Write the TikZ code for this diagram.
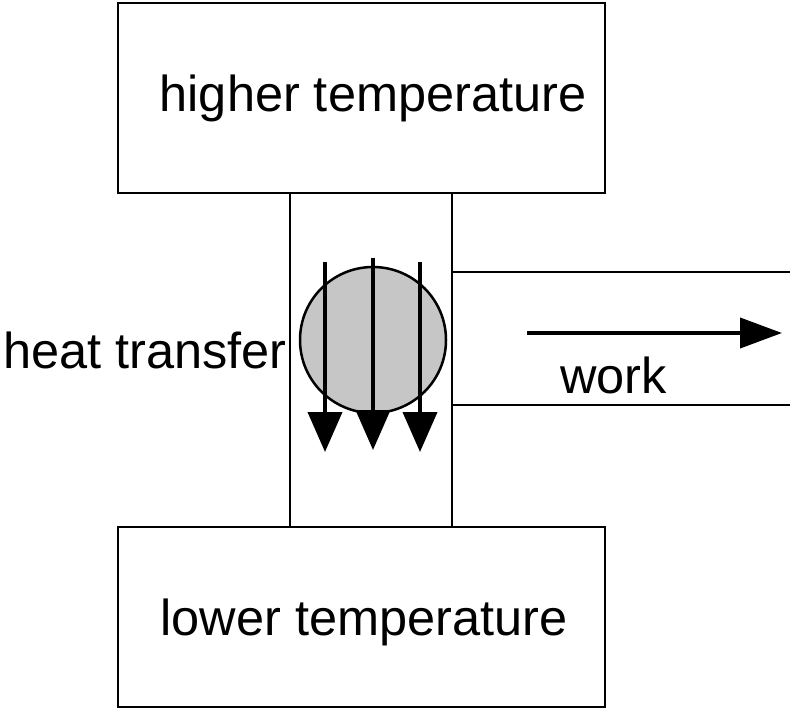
\documentclass[tikz,border=0pt]{standalone}
\usepackage{fontspec}
\setmainfont{Liberation Sans}
\usetikzlibrary{arrows.meta}
\begin{document}
\begin{tikzpicture}[x=1pt,y=-1pt,
  box/.style={draw,line width=2.5pt},
  lab/.style={font=\fontsize{50.5}{56}\selectfont,inner sep=0},
  flow/.style={line width=4pt,-{Triangle[width=34pt,length=40pt]}}]
\useasboundingbox (0,0) rectangle (800,719);
\draw[box] (118,3) rectangle (605,193);
\draw[box] (118,527) rectangle (605,707);
\draw[box] (290,193) -- (290,527);
\draw[box] (452,193) -- (452,527);
\node[lab] (hi) at (373,98) {higher temperature};
\node[lab] (lo) at (364,622) {lower temperature};
\node[circle,draw,line width=2.5pt,fill=gray!45,minimum size=146pt] (c) at (373,340) {};
\coordinate (a1) at (325,262); \coordinate (b1) at (325,452);
\coordinate (a2) at (373,258); \coordinate (b2) at (373,450);
\coordinate (a3) at (420,262); \coordinate (b3) at (420,452);
\draw[flow] (a1) -- (b1);
\draw[flow] (a2) -- (b2);
\draw[flow] (a3) -- (b3);
\draw[line width=2pt] (452,272) -- (790,272);
\draw[line width=2pt] (452,405) -- (790,405);
\coordinate (w1) at (527,333); \coordinate (w2) at (782,333);
\draw[line width=4pt,-{Triangle[width=30pt,length=42pt]}] (w1) -- (w2);
\node[lab,anchor=west] (w) at (560,375) {work};
\node[lab,anchor=east] (ht) at (287,350) {heat transfer};
\end{tikzpicture}
\end{document}
